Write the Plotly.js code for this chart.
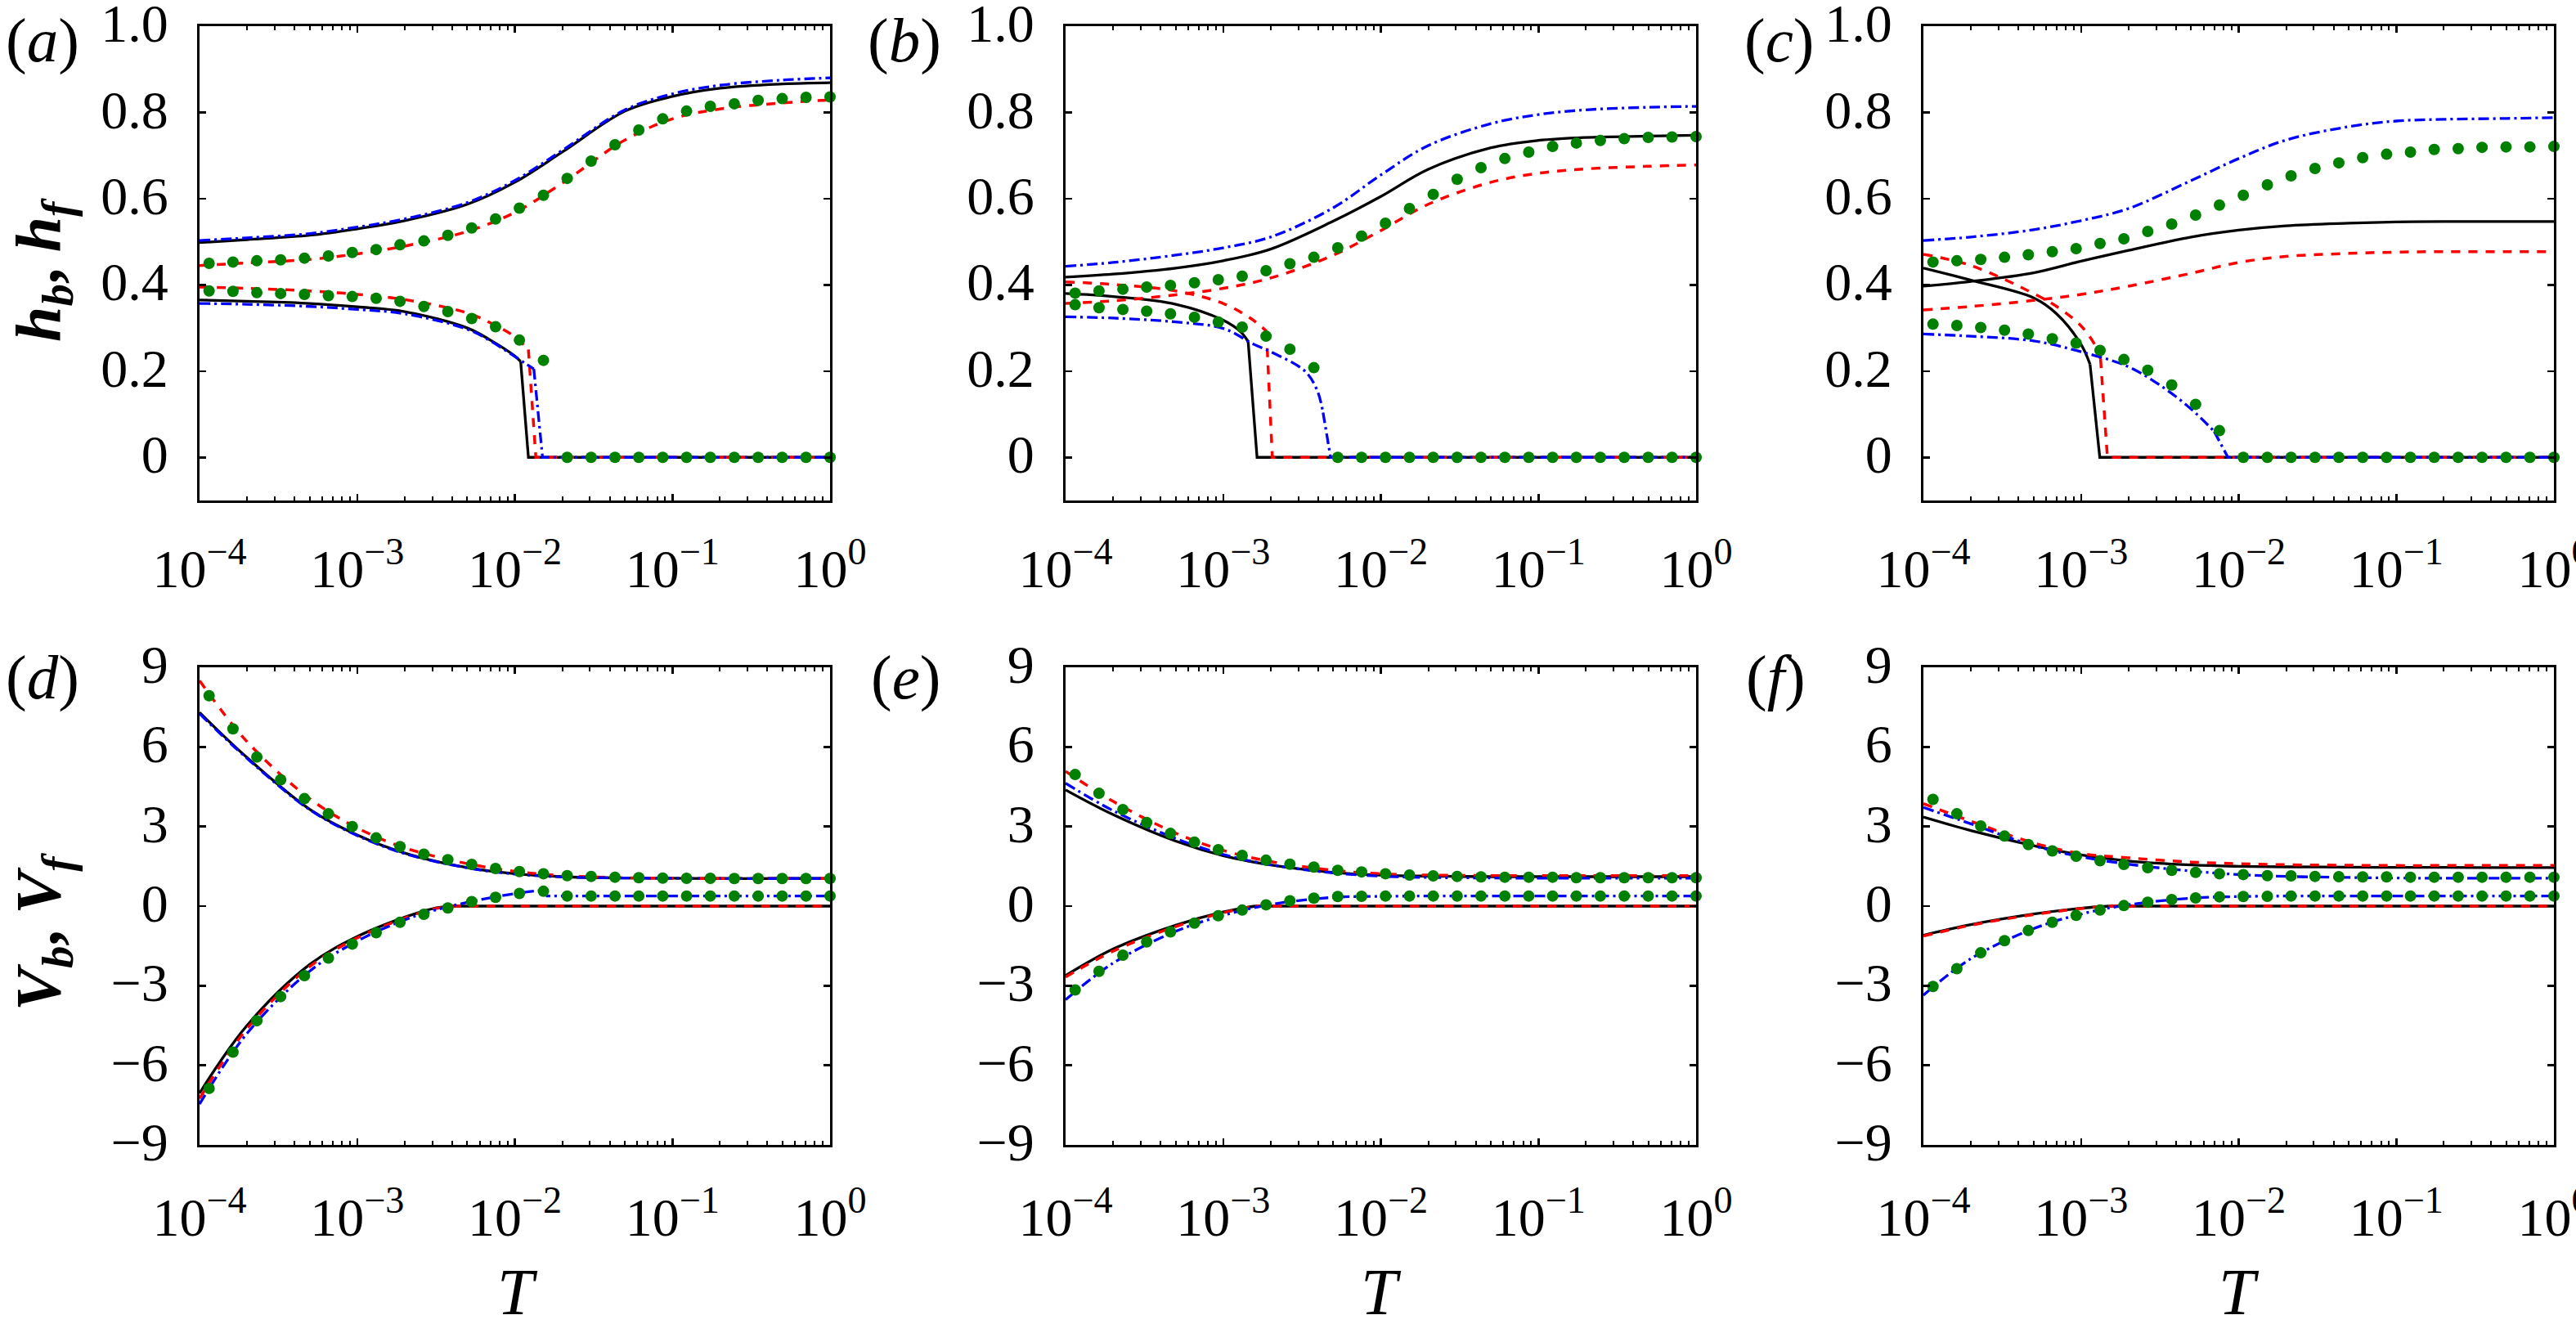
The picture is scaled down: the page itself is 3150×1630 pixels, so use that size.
<!DOCTYPE html>
<html>
<head>
<meta charset="utf-8">
<script src="https://cdn.plot.ly/plotly-3.0.1.min.js"></script>
<style>html,body{margin:0;padding:0;background:#fff}#plot{width:3150px;height:1630px}</style>
</head>
<body>
<div id="plot"></div>
<script>
// ---------- shared abscissae and tick labels ----------
const T_GRID = [1e-4, 2e-4, 5e-4, 1e-3, 2e-3, 5e-3, 1e-2, 2e-2, 5e-2, 0.1, 0.2, 0.5, 1];
const T_DOTS = [1.15e-4, 1.63e-4, 2.31e-4, 3.27e-4, 4.63e-4, 6.57e-4, 9.31e-4, 1.32e-3, 1.87e-3, 2.65e-3,
                3.76e-3, 5.33e-3, 7.55e-3, 1.07e-2, 1.52e-2, 2.15e-2, 3.05e-2, 4.32e-2, 6.12e-2, 8.68e-2,
                0.123, 0.174, 0.247, 0.350, 0.497, 0.704, 1.0];
const X_TICKS = [1e-4, 1e-3, 1e-2, 1e-1, 1];
const X_TICKTEXT = ['10<sup>\u22124</sup>', '10<sup>\u22123</sup>', '10<sup>\u22122</sup>', '10<sup>\u22121</sup>', '10<sup>0</sup>'];
const H_TICKS = [0, 0.2, 0.4, 0.6, 0.8, 1.0];
const H_TICKTEXT = ['0', '0.2', '0.4', '0.6', '0.8', '1.0'];
const V_TICKS = [-9, -6, -3, 0, 3, 6, 9];
const V_TICKTEXT = ['\u22129', '\u22126', '\u22123', '0', '3', '6', '9'];
const PANEL_LABELS = ['a', 'b', 'c', 'd', 'e', 'f'];

// ---------- (a) ----------
const a_blk_up = [0.498, 0.505, 0.515, 0.530, 0.549, 0.587, 0.638, 0.708, 0.803, 0.837, 0.856, 0.866, 0.869];
const a_red_up = [0.445, 0.451, 0.459, 0.472, 0.490, 0.524, 0.568, 0.636, 0.736, 0.785, 0.808, 0.822, 0.829];
const a_blu_up = [0.503, 0.509, 0.519, 0.534, 0.553, 0.591, 0.642, 0.712, 0.806, 0.843, 0.863, 0.875, 0.880];
const a_blk_loT = [1e-4, 2e-4, 5e-4, 1e-3, 2e-3, 5e-3, 7e-3, 1e-2, 1.09e-2, 1.22e-2, 1];
const a_blk_loV = [0.365, 0.362, 0.357, 0.349, 0.338, 0.300, 0.272, 0.235, 0.222, 0, 0];
const a_red_loT = [1e-4, 2e-4, 5e-4, 1e-3, 2e-3, 5e-3, 7e-3, 1e-2, 1.22e-2, 1.36e-2, 1];
const a_red_loV = [0.395, 0.392, 0.386, 0.378, 0.366, 0.335, 0.312, 0.280, 0.250, 0, 0];
const a_blu_loT = [1e-4, 2e-4, 5e-4, 1e-3, 2e-3, 5e-3, 7e-3, 1e-2, 1.32e-2, 1.5e-2, 1];
const a_blu_loV = [0.357, 0.355, 0.350, 0.343, 0.333, 0.297, 0.270, 0.234, 0.205, 0, 0];
const a_lo_n = [9, 9, 9];
const a_grn_up = [0.450, 0.453, 0.456, 0.458, 0.462, 0.467, 0.475, 0.482, 0.493, 0.502, 0.515, 0.532, 0.553, 0.578,
                  0.608, 0.647, 0.687, 0.725, 0.759, 0.785, 0.803, 0.814, 0.820, 0.828, 0.832, 0.835, 0.836];
const a_grn_lo = [0.386, 0.385, 0.382, 0.380, 0.378, 0.375, 0.373, 0.369, 0.362, 0.350, 0.338, 0.322, 0.303, 0.272,
                  0.225, 0, 0, 0, 0, 0, 0, 0, 0, 0, 0, 0, 0];

// ---------- (b) ----------
const b_blk_up = [0.418, 0.425, 0.439, 0.456, 0.483, 0.548, 0.605, 0.668, 0.718, 0.735, 0.742, 0.745, 0.747];
const b_red_up = [0.357, 0.363, 0.377, 0.392, 0.416, 0.469, 0.526, 0.587, 0.638, 0.659, 0.669, 0.675, 0.678];
const b_blu_up = [0.443, 0.452, 0.469, 0.486, 0.511, 0.579, 0.655, 0.723, 0.774, 0.795, 0.806, 0.812, 0.814];
const b_blk_loT = [1e-4, 2e-4, 5e-4, 1e-3, 1.3e-3, 1.44e-3, 1.64e-3, 1];
const b_blk_loV = [0.380, 0.373, 0.355, 0.318, 0.290, 0.268, 0, 0];
const b_red_loT = [1e-4, 2e-4, 5e-4, 1e-3, 1.5e-3, 1.88e-3, 2.05e-3, 1];
const b_red_loV = [0.407, 0.401, 0.386, 0.357, 0.322, 0.293, 0, 0];
const b_blu_loT = [1e-4, 2e-4, 5e-4, 1e-3, 1.57e-3, 2e-3, 3.3e-3, 3.95e-3, 4.3e-3, 4.8e-3, 1];
const b_blu_loV = [0.326, 0.323, 0.314, 0.299, 0.262, 0.245, 0.200, 0.155, 0.104, 0, 0];
const b_lo_n = [6, 6, 9];
const b_grn_up = [0.381, 0.386, 0.390, 0.395, 0.399, 0.405, 0.412, 0.420, 0.433, 0.449, 0.464, 0.486, 0.513, 0.543,
                  0.577, 0.610, 0.645, 0.672, 0.693, 0.708, 0.721, 0.729, 0.735, 0.739, 0.742, 0.743, 0.744];
const b_grn_lo = [0.354, 0.347, 0.343, 0.339, 0.333, 0.325, 0.314, 0.302, 0.281, 0.251, 0.208, 0, 0, 0,
                  0, 0, 0, 0, 0, 0, 0, 0, 0, 0, 0, 0, 0];

// ---------- (c) ----------
const c_blk_up = [0.397, 0.408, 0.428, 0.455, 0.480, 0.511, 0.527, 0.537, 0.543, 0.546, 0.547, 0.547, 0.547];
const c_red_up = [0.342, 0.350, 0.364, 0.378, 0.397, 0.427, 0.452, 0.466, 0.473, 0.476, 0.477, 0.477, 0.477];
const c_blu_up = [0.503, 0.511, 0.528, 0.549, 0.577, 0.642, 0.693, 0.736, 0.767, 0.780, 0.784, 0.786, 0.788];
const c_blk_loT = [1e-4, 2e-4, 5e-4, 7e-4, 1e-3, 1.14e-3, 1.315e-3, 1];
const c_blk_loV = [0.439, 0.411, 0.370, 0.333, 0.262, 0.216, 0, 0];
const c_red_loT = [1e-4, 2e-4, 5e-4, 7e-4, 1e-3, 1.25e-3, 1.33e-3, 1.47e-3, 1];
const c_red_loV = [0.471, 0.445, 0.380, 0.350, 0.305, 0.255, 0.228, 0, 0];
const c_blu_loT = [1e-4, 2e-4, 5e-4, 1e-3, 2e-3, 3.3e-3, 5e-3, 7e-3, 8.55e-3, 1];
const c_blu_loV = [0.286, 0.281, 0.270, 0.245, 0.210, 0.163, 0.112, 0.060, 0, 0];
const c_lo_n = [6, 7, 8];
const c_grn_up = [0.453, 0.456, 0.459, 0.464, 0.470, 0.477, 0.484, 0.496, 0.507, 0.524, 0.541, 0.562, 0.585, 0.608,
                  0.632, 0.653, 0.670, 0.683, 0.695, 0.703, 0.708, 0.714, 0.716, 0.719, 0.720, 0.720, 0.721];
const c_grn_lo = [0.309, 0.306, 0.301, 0.295, 0.286, 0.275, 0.265, 0.248, 0.227, 0.202, 0.168, 0.123, 0.062, 0,
                  0, 0, 0, 0, 0, 0, 0, 0, 0, 0, 0, 0, 0];

// ---------- (d) ----------
const d_blk_up = [7.30, 5.60, 3.65, 2.68, 2.00, 1.45, 1.22, 1.11, 1.06, 1.05, 1.04, 1.04, 1.04];
const d_red_up = [8.50, 6.20, 4.05, 2.95, 2.20, 1.60, 1.31, 1.15, 1.07, 1.05, 1.04, 1.04, 1.04];
const d_blu_up = [7.25, 5.57, 3.63, 2.66, 1.98, 1.44, 1.21, 1.10, 1.06, 1.05, 1.04, 1.04, 1.04];
const d_blk_loT = [1e-4, 2e-4, 5e-4, 1e-3, 2e-3, 3e-3, 4e-3, 1];
const d_blk_loV = [-7.05, -4.50, -2.20, -1.15, -0.42, -0.10, 0, 0];
const d_red_loT = [1e-4, 2e-4, 5e-4, 1e-3, 2e-3, 3e-3, 4e-3, 1];
const d_red_loV = [-7.25, -4.62, -2.28, -1.20, -0.45, -0.12, 0, 0];
const d_blu_loT = [1e-4, 2e-4, 5e-4, 1e-3, 2e-3, 3e-3, 5e-3, 1e-2, 1.5e-2, 1.6e-2, 1];
const d_blu_loV = [-7.46, -4.80, -2.45, -1.32, -0.52, -0.18, 0.14, 0.47, 0.60, 0.38, 0.38];
const d_lo_n = [7, 7, 9];
const d_grn_up = [7.93, 6.68, 5.62, 4.76, 4.05, 3.48, 3.00, 2.57, 2.24, 1.96, 1.75, 1.57, 1.42, 1.30,
                  1.22, 1.15, 1.12, 1.09, 1.07, 1.055, 1.05, 1.05, 1.04, 1.04, 1.04, 1.04, 1.04];
const d_grn_lo = [-6.87, -5.50, -4.32, -3.41, -2.62, -1.96, -1.43, -1.00, -0.61, -0.31, -0.07, 0.17, 0.33, 0.48,
                  0.56, 0.38, 0.38, 0.38, 0.38, 0.38, 0.38, 0.38, 0.38, 0.38, 0.38, 0.38, 0.38];

// ---------- (e) ----------
const e_blk_up = [4.38, 3.45, 2.45, 1.90, 1.55, 1.27, 1.17, 1.13, 1.11, 1.11, 1.11, 1.11, 1.11];
const e_red_up = [5.08, 3.95, 2.75, 2.10, 1.68, 1.35, 1.22, 1.17, 1.15, 1.15, 1.15, 1.15, 1.15];
const e_blu_up = [4.63, 3.60, 2.55, 1.95, 1.56, 1.25, 1.13, 1.08, 1.06, 1.05, 1.05, 1.05, 1.05];
const e_blk_loT = [1e-4, 2e-4, 5e-4, 1e-3, 1.6e-3, 1];
const e_blk_loV = [-2.62, -1.62, -0.72, -0.22, 0, 0];
const e_red_loT = [1e-4, 2e-4, 5e-4, 1e-3, 1.6e-3, 1];
const e_red_loV = [-2.67, -1.70, -0.77, -0.25, 0, 0];
const e_blu_loT = [1e-4, 2e-4, 5e-4, 1e-3, 2e-3, 5e-3, 1e-2, 2e-2, 1];
const e_blu_loV = [-3.53, -2.15, -0.95, -0.35, 0.06, 0.33, 0.37, 0.38, 0.38];
const e_lo_n = [5, 5, 8];
const e_grn_up = [4.96, 4.25, 3.64, 3.15, 2.74, 2.41, 2.13, 1.91, 1.73, 1.58, 1.47, 1.35, 1.29, 1.22,
                  1.17, 1.14, 1.12, 1.10, 1.09, 1.09, 1.09, 1.07, 1.07, 1.07, 1.07, 1.07, 1.07];
const e_grn_lo = [-3.16, -2.46, -1.85, -1.35, -0.97, -0.64, -0.36, -0.15, 0.05, 0.20, 0.30, 0.36, 0.37, 0.38,
                  0.38, 0.38, 0.38, 0.38, 0.38, 0.38, 0.38, 0.38, 0.38, 0.38, 0.38, 0.38, 0.38];

// ---------- (f) ----------
const f_blk_up = [3.36, 2.85, 2.28, 1.93, 1.70, 1.55, 1.50, 1.48, 1.47, 1.46, 1.46, 1.45, 1.45];
const f_red_up = [3.86, 3.20, 2.38, 1.98, 1.82, 1.66, 1.60, 1.56, 1.54, 1.53, 1.53, 1.53, 1.53];
const f_blu_up = [3.72, 3.10, 2.28, 1.86, 1.58, 1.32, 1.19, 1.12, 1.08, 1.06, 1.05, 1.05, 1.05];
const f_blk_loT = [1e-4, 2e-4, 5e-4, 1e-3, 1.5e-3, 1];
const f_blk_loV = [-1.10, -0.70, -0.30, -0.08, 0, 0];
const f_red_loT = [1e-4, 2e-4, 5e-4, 1e-3, 1.5e-3, 1];
const f_red_loV = [-1.13, -0.72, -0.32, -0.09, 0, 0];
const f_blu_loT = [1e-4, 2e-4, 5e-4, 1e-3, 2e-3, 5e-3, 1e-2, 2e-2, 1];
const f_blu_loV = [-3.36, -1.98, -0.85, -0.30, 0.05, 0.30, 0.36, 0.38, 0.38];
const f_lo_n = [5, 5, 8];
const f_grn_up = [4.02, 3.48, 3.02, 2.64, 2.32, 2.08, 1.88, 1.71, 1.57, 1.45, 1.35, 1.27, 1.22, 1.19,
                  1.15, 1.14, 1.12, 1.11, 1.10, 1.10, 1.09, 1.09, 1.09, 1.09, 1.09, 1.09, 1.09];
const f_grn_lo = [-3.03, -2.36, -1.76, -1.30, -0.92, -0.61, -0.35, -0.15, 0.02, 0.15, 0.25, 0.31, 0.35, 0.36,
                  0.37, 0.38, 0.38, 0.38, 0.38, 0.38, 0.38, 0.38, 0.38, 0.38, 0.38, 0.38, 0.38];

// ---------- assembly ----------
const panels = [
  {up: [a_blk_up, a_red_up, a_blu_up], lo: [[a_blk_loT, a_blk_loV], [a_red_loT, a_red_loV], [a_blu_loT, a_blu_loV]], n: a_lo_n, gu: a_grn_up, gl: a_grn_lo},
  {up: [b_blk_up, b_red_up, b_blu_up], lo: [[b_blk_loT, b_blk_loV], [b_red_loT, b_red_loV], [b_blu_loT, b_blu_loV]], n: b_lo_n, gu: b_grn_up, gl: b_grn_lo},
  {up: [c_blk_up, c_red_up, c_blu_up], lo: [[c_blk_loT, c_blk_loV], [c_red_loT, c_red_loV], [c_blu_loT, c_blu_loV]], n: c_lo_n, gu: c_grn_up, gl: c_grn_lo},
  {up: [d_blk_up, d_red_up, d_blu_up], lo: [[d_blk_loT, d_blk_loV], [d_red_loT, d_red_loV], [d_blu_loT, d_blu_loV]], n: d_lo_n, gu: d_grn_up, gl: d_grn_lo},
  {up: [e_blk_up, e_red_up, e_blu_up], lo: [[e_blk_loT, e_blk_loV], [e_red_loT, e_red_loV], [e_blu_loT, e_blu_loV]], n: e_lo_n, gu: e_grn_up, gl: e_grn_lo},
  {up: [f_blk_up, f_red_up, f_blu_up], lo: [[f_blk_loT, f_blk_loV], [f_red_loT, f_red_loV], [f_blu_loT, f_blu_loV]], n: f_lo_n, gu: f_grn_up, gl: f_grn_lo}
];

const W = 3150, H = 1630;
const FONT = 'Liberation Serif';
const COLS = [[244, 1015], [1303, 2074], [2352, 3123]];
const ROWS = [[32, 612], [816, 1400]];
const XLABEL_GAP = [24, 29];
const STYLES = [
  {color: '#000000', width: 3.3},
  {color: '#ff0000', width: 3.5, dash: '11px,10px'},
  {color: '#0000ff', width: 3.3, dash: '13px,5px,3px,5px'}
];
const GREEN = '#008000';

const traces = [];
const layout = {
  width: W, height: H,
  margin: {l: 0, r: 0, t: 0, b: 0},
  paper_bgcolor: '#ffffff', plot_bgcolor: '#ffffff',
  showlegend: false,
  font: {family: FONT, color: '#000000', size: 66},
  annotations: []
};

function line(xa, ya, x, y, style, shape) {
  return {x: x, y: y, xaxis: xa, yaxis: ya, type: 'scatter', mode: 'lines',
          line: Object.assign({shape: shape, smoothing: 1}, style), hoverinfo: 'skip'};
}

panels.forEach(function (p, i) {
  const k = i + 1;
  const xa = 'x' + k, ya = 'y' + k;
  const r = Math.floor(i / 3);
  const col = COLS[i % 3], row = ROWS[r];
  const isH = i < 3;
  for (let s = 0; s < 3; s++) {
    traces.push(line(xa, ya, T_GRID, p.up[s], STYLES[s], 'spline'));
    const T = p.lo[s][0], V = p.lo[s][1], n = p.n[s];
    traces.push(line(xa, ya, T.slice(0, n), V.slice(0, n), STYLES[s], 'spline'));
    if (n < T.length) traces.push(line(xa, ya, T.slice(n - 1), V.slice(n - 1), STYLES[s], 'linear'));
  }
  [p.gu, p.gl].forEach(function (g) {
    traces.push({x: T_DOTS, y: g, xaxis: xa, yaxis: ya, type: 'scatter', mode: 'markers',
                 marker: {color: GREEN, size: 14, line: {width: 0}}, hoverinfo: 'skip', cliponaxis: false});
  });
  const axCommon = {
    showline: true, linecolor: '#000000', linewidth: 3, mirror: 'ticks',
    ticks: 'inside', ticklen: 8, tickwidth: 2.5, tickcolor: '#000000',
    showgrid: false, zeroline: false, ticklabeloverflow: 'allow',
    tickfont: {family: FONT, size: 66, color: '#000000'}
  };
  layout['xaxis' + (k === 1 ? '' : k)] = Object.assign({}, axCommon, {
    type: 'log', range: [-4, 0], anchor: ya,
    domain: [col[0] / W, col[1] / W],
    tickmode: 'array', tickvals: X_TICKS, ticktext: X_TICKTEXT,
    ticklabelstandoff: XLABEL_GAP[r],
    minor: {ticks: 'inside', ticklen: 5, tickwidth: 2, tickcolor: '#000000', dtick: 'D1', showgrid: false}
  });
  layout['yaxis' + (k === 1 ? '' : k)] = Object.assign({}, axCommon, {
    range: isH ? [-0.1, 1.0] : [-9, 9], anchor: xa,
    domain: [1 - row[1] / H, 1 - row[0] / H],
    tickmode: 'array', tickvals: isH ? H_TICKS : V_TICKS, ticktext: isH ? H_TICKTEXT : V_TICKTEXT,
    ticklabelstandoff: 22, ticklabelshift: -4
  });
});

function ann(text, px, py, size, angle) {
  layout.annotations.push({text: text, x: px / W, y: 1 - py / H, xref: 'paper', yref: 'paper',
    xanchor: 'center', yanchor: 'middle', showarrow: false, textangle: angle || 0,
    font: {family: FONT, size: size, color: '#000000'}});
}
const LABEL_POS = [[52, 49], [1106, 49], [2176, 49], [52, 828], [1108, 828], [2171, 828]];
PANEL_LABELS.forEach(function (l, i) { ann('(<i>' + l + '</i>)', LABEL_POS[i][0], LABEL_POS[i][1], 77); });
ann('<b><i>h</i><sub><i>b</i></sub>, <i>h</i><sub><i>f</i></sub></b>', 52, 330, 78, -90);
ann('<b><i>V</i><sub><i>b</i></sub>, <i>V</i><sub><i>f</i></sub></b>', 52, 1140, 78, -90);
[633, 1689, 2738].forEach(function (x) { ann('<i>T</i>', x, 1580, 80); });

Plotly.newPlot('plot', traces, layout, {displayModeBar: false, staticPlot: true});
</script>
</body>
</html>
